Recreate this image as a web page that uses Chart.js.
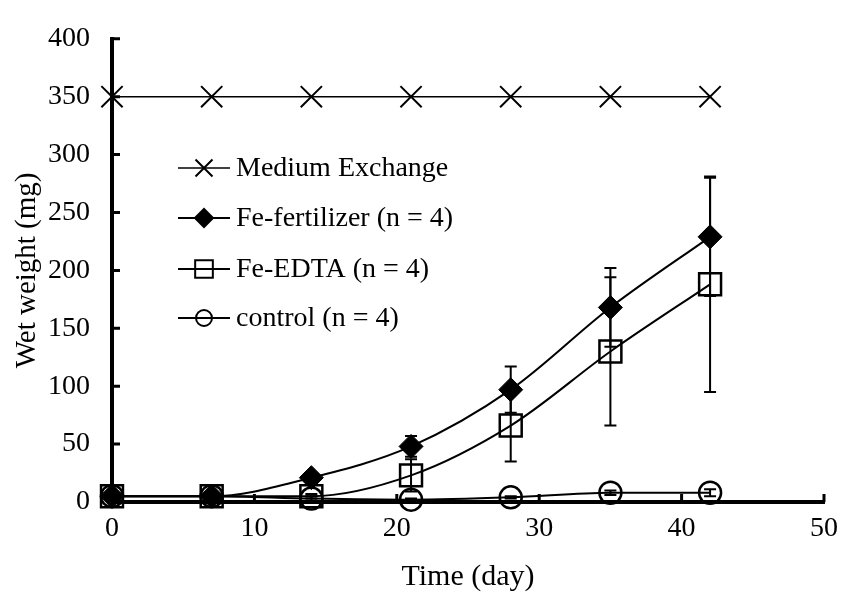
<!DOCTYPE html>
<html>
<head>
<meta charset="utf-8">
<script src="https://cdn.jsdelivr.net/npm/chart.js@4"></script>
<style>
html, body { margin: 0; padding: 0; background: #fff; }
</style>
</head>
<body>
<canvas id="chart" width="848" height="595"></canvas>
<script>
// Data
const days = [0, 7, 14, 21, 28, 35, 42];
const mediumExchange = [350, 350, 350, 350, 350, 350, 350];
const feFertilizer = [5, 5, 21, 48, 97, 168, 229];
const feFertilizerErr = [1, 1, 3, 9, 20, 34, 51];
const feEdta = [5, 5, 5, 23, 66, 130, 188];
const feEdtaErr = [1, 1, 2, 14, 31, 64, 93];
const control = [5, 5, 3, 2, 4, 8, 8];
const controlErr = [1, 1, 2, 1, 1, 2, 3];

const labels = ['Medium Exchange', 'Fe-fertilizer (n = 4)', 'Fe-EDTA (n = 4)', 'control (n = 4)'];
const xTicks = [0, 10, 20, 30, 40, 50];
const yTicks = [0, 50, 100, 150, 200, 250, 300, 350, 400];

const FONT = '"Liberation Serif", "Times New Roman", serif';

function points(values) {
    return days.map((d, i) => ({ x: d, y: values[i] }));
}

// Error bars drawn through the chart scales
const errorBars = {
    id: 'errorBars',
    afterDatasetsDraw(chart) {
        const ctx = chart.ctx;
        const xs = chart.scales.x, ys = chart.scales.y;
        ctx.save();
        ctx.strokeStyle = '#000';
        ctx.lineWidth = 2;
        chart.data.datasets.forEach(ds => {
            if (!ds.errors) return;
            ds.data.forEach((p, i) => {
                const e = ds.errors[i];
                const px = xs.getPixelForValue(p.x);
                const top = ys.getPixelForValue(p.y + e);
                const bot = ys.getPixelForValue(p.y - e);
                ctx.beginPath();
                ctx.moveTo(px, top); ctx.lineTo(px, bot);
                ctx.moveTo(px - 6, top); ctx.lineTo(px + 6, top);
                ctx.moveTo(px - 6, bot); ctx.lineTo(px + 6, bot);
                ctx.stroke();
            });
        });
        ctx.restore();
    }
};

// Inward tick marks like the original
const innerTicks = {
    id: 'innerTicks',
    afterDraw(chart) {
        const ctx = chart.ctx;
        const xs = chart.scales.x, ys = chart.scales.y;
        const x0 = xs.getPixelForValue(0), y0 = ys.getPixelForValue(0);
        ctx.save();
        ctx.strokeStyle = '#000';
        ctx.lineWidth = 3;
        ctx.beginPath();
        yTicks.slice(1).forEach(v => {
            const py = ys.getPixelForValue(v);
            ctx.moveTo(x0, py); ctx.lineTo(x0 + 8, py);
        });
        xTicks.slice(1).forEach(v => {
            const px = xs.getPixelForValue(v);
            ctx.moveTo(px, y0); ctx.lineTo(px, y0 - 8);
        });
        ctx.stroke();
        ctx.restore();
    }
};

// Legend inside the plot area
const innerLegend = {
    id: 'innerLegend',
    afterDraw(chart) {
        const ctx = chart.ctx;
        const x1 = 178, x2 = 230, tx = 236;
        const rows = [168, 218, 269, 318];
        ctx.save();
        ctx.font = '28px ' + FONT;
        ctx.textBaseline = 'middle';
        ctx.fillStyle = '#000';
        chart.data.datasets.forEach((ds, i) => {
            const y = rows[i];
            ctx.strokeStyle = '#000';
            ctx.lineWidth = ds.borderWidth;
            ctx.beginPath();
            ctx.moveTo(x1, y); ctx.lineTo(x2, y);
            ctx.stroke();
            ctx.fillStyle = ds.pointBackgroundColor;
            ctx.lineWidth = 2;
            Chart.helpers.drawPoint(ctx, {
                pointStyle: ds.pointStyle,
                radius: ds.legendRadius,
                borderWidth: 2,
                rotation: 0
            }, (x1 + x2) / 2, y);
            ctx.fillStyle = '#000';
            ctx.fillText(labels[i], tx, y + 1);
        });
        ctx.restore();
    }
};

new Chart(document.getElementById('chart'), {
    type: 'line',
    data: {
        datasets: [
            {
                label: labels[0],
                data: points(mediumExchange),
                borderColor: '#000',
                borderWidth: 1.5,
                pointStyle: 'crossRot',
                pointRadius: 15,
                pointBorderWidth: 2,
                pointBorderColor: '#000',
                pointBackgroundColor: '#000',
                legendRadius: 12,
                clip: false
            },
            {
                label: labels[1],
                data: points(feFertilizer),
                errors: feFertilizerErr,
                borderColor: '#000',
                borderWidth: 2,
                cubicInterpolationMode: 'monotone',
                pointStyle: 'rectRot',
                pointRadius: 12,
                pointBorderWidth: 1,
                pointBorderColor: '#000',
                pointBackgroundColor: '#000',
                legendRadius: 9,
                clip: false
            },
            {
                label: labels[2],
                data: points(feEdta),
                errors: feEdtaErr,
                borderColor: '#000',
                borderWidth: 2,
                cubicInterpolationMode: 'monotone',
                pointStyle: 'rect',
                pointRadius: 15.5,
                pointBorderWidth: 2.5,
                pointBorderColor: '#000',
                pointBackgroundColor: 'rgba(0,0,0,0)',
                legendRadius: 12.5,
                clip: false
            },
            {
                label: labels[3],
                data: points(control),
                errors: controlErr,
                borderColor: '#000',
                borderWidth: 2,
                cubicInterpolationMode: 'monotone',
                pointStyle: 'circle',
                pointRadius: 11,
                pointBorderWidth: 2.5,
                pointBorderColor: '#000',
                pointBackgroundColor: 'rgba(0,0,0,0)',
                legendRadius: 8,
                clip: false
            }
        ]
    },
    options: {
        responsive: false,
        animation: false,
        layout: { padding: { top: 21, right: 16, left: 0, bottom: 0 } },
        plugins: {
            legend: { display: false },
            tooltip: { enabled: false }
        },
        scales: {
            x: {
                type: 'linear',
                min: 0,
                max: 50,
                afterBuildTicks: s => { s.ticks = xTicks.map(v => ({ value: v })); },
                afterFit: s => { s.height = 93; },
                grid: { display: false, drawTicks: false },
                border: { display: true, color: '#000', width: 4 },
                ticks: { color: '#000', padding: 10, font: { family: FONT, size: 28 } },
                title: {
                    display: true,
                    text: 'Time (day)',
                    color: '#000',
                    padding: { top: 0, bottom: 0 },
                    font: { family: FONT, size: 30 }
                }
            },
            y: {
                min: 0,
                max: 400,
                afterBuildTicks: s => { s.ticks = yTicks.map(v => ({ value: v })); },
                afterFit: s => { s.width = 112; },
                grid: { display: false, drawTicks: false },
                border: { display: true, color: '#000', width: 4 },
                ticks: { color: '#000', padding: 22, font: { family: FONT, size: 28 } },
                title: {
                    display: true,
                    text: 'Wet weight (mg)',
                    color: '#000',
                    padding: { top: 10, bottom: 0 },
                    font: { family: FONT, size: 29 }
                }
            }
        }
    },
    plugins: [errorBars, innerTicks, innerLegend]
});
</script>
</body>
</html>
